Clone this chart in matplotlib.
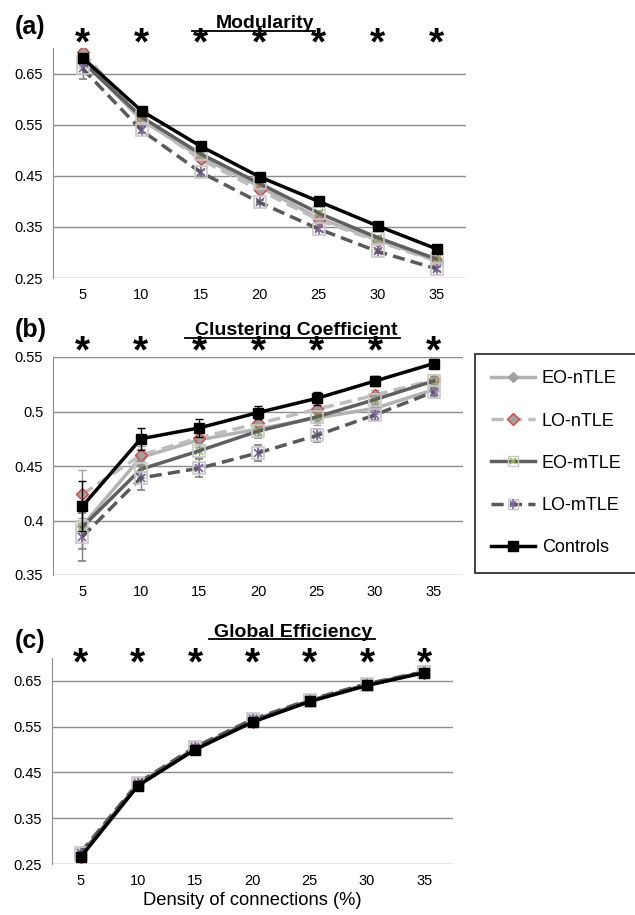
import matplotlib.pyplot as plt
import matplotlib.transforms as mtransforms
from matplotlib.lines import Line2D
from matplotlib.legend_handler import HandlerTuple

plt.rcParams['font.family'] = ['Liberation Sans', 'DejaVu Sans']

density = ['5', '10', '15', '20', '25', '30', '35']
groups = ['EO-nTLE', 'LO-nTLE', 'EO-mTLE', 'LO-mTLE', 'Controls']

# (a) modularity
mod_eo_ntle = [0.676, 0.559, 0.487, 0.429, 0.367, 0.325, 0.284]
mod_lo_ntle = [0.692, 0.562, 0.482, 0.422, 0.364, 0.322, 0.283]
mod_eo_mtle = [0.673, 0.565, 0.493, 0.435, 0.377, 0.329, 0.287]
mod_lo_mtle = [0.660, 0.539, 0.457, 0.398, 0.346, 0.302, 0.268]
mod_controls = [0.681, 0.577, 0.508, 0.448, 0.400, 0.352, 0.307]
mod_err = [0.006, 0.005, 0.004, 0.004, 0.004, 0.004, 0.004]
mod_err_lo_mtle = [0.020, 0.006, 0.005, 0.004, 0.004, 0.004, 0.004]

# (b) clustering coefficient
cc_eo_ntle = [0.395, 0.458, 0.474, 0.484, 0.494, 0.503, 0.520]
cc_lo_ntle = [0.424, 0.460, 0.476, 0.489, 0.502, 0.515, 0.529]
cc_eo_mtle = [0.394, 0.447, 0.464, 0.482, 0.495, 0.511, 0.528]
cc_lo_mtle = [0.385, 0.439, 0.448, 0.462, 0.478, 0.497, 0.518]
cc_controls = [0.413, 0.475, 0.485, 0.499, 0.512, 0.528, 0.544]
cc_err = [0.020, 0.008, 0.007, 0.006, 0.006, 0.005, 0.004]
cc_err_lo_ntle = [0.022, 0.008, 0.007, 0.006, 0.006, 0.005, 0.004]
cc_err_controls = [0.023, 0.010, 0.008, 0.006, 0.006, 0.005, 0.004]
cc_err_lo_mtle = [0.022, 0.011, 0.008, 0.007, 0.006, 0.005, 0.004]

# (c) global efficiency
ge_eo_ntle = [0.268, 0.423, 0.502, 0.562, 0.606, 0.641, 0.669]
ge_lo_ntle = [0.266, 0.422, 0.501, 0.561, 0.606, 0.641, 0.668]
ge_eo_mtle = [0.270, 0.424, 0.503, 0.563, 0.607, 0.642, 0.669]
ge_lo_mtle = [0.275, 0.427, 0.506, 0.566, 0.609, 0.644, 0.670]
ge_controls = [0.265, 0.421, 0.500, 0.560, 0.605, 0.640, 0.668]
ge_err = [0.004, 0.003, 0.003, 0.003, 0.003, 0.003, 0.003]

x = list(range(len(density)))

W, H = 635, 915
fig = plt.figure(figsize=(W / 100, H / 100), dpi=100)


def fx(px):
    return px / W


def fy(py):
    return 1 - py / H


def add_axes(left, right, top, bottom):
    return fig.add_axes([fx(left), fy(bottom), fx(right) - fx(left), fy(top) - fy(bottom)])


def draw_series(ax, eo_n, lo_n, eo_m, lo_m, ctrl, errs):
    e1, e2, e3, e4, e5 = errs
    ax.errorbar(x, eo_n, yerr=e1, color='#b3b3b3', lw=2.5, marker='D', ms=5,
                mfc='#a0a0a0', mec='#a0a0a0', ecolor='#a0a0a0', elinewidth=1, capsize=3, zorder=3)
    ax.errorbar(x, lo_n, yerr=e2, color='#bdbdbd', lw=2.5, ls=(0, (3.5, 1.8)), marker='D', ms=6,
                mfc='#a0a0a0', mec='#e0403a', mew=1, ecolor='#a0a0a0', elinewidth=1, capsize=3, zorder=4)
    ax.errorbar(x, eo_m, yerr=e3, color='#5f5f5f', lw=2.5, marker='s', ms=9,
                mfc='none', mec='#c8c8c8', mew=1.2, ecolor='#909090', elinewidth=1, capsize=3, zorder=5)
    ax.plot(x, eo_m, ls='none', marker='x', ms=6, mec='#92c050', mew=1.2, zorder=5)
    ax.errorbar(x, lo_m, yerr=e4, color='#595959', lw=2.5, ls=(0, (3.5, 1.8)), marker='s', ms=9,
                mfc='none', mec='#c8c8c8', mew=1.2, ecolor='#808080', elinewidth=1, capsize=3, zorder=6)
    ax.plot(x, lo_m, ls='none', marker='x', ms=6, mec='#8064a2', mew=1.2, zorder=6)
    ax.plot(x, lo_m, ls='none', marker='|', ms=8, mec='#8064a2', mew=1.2, zorder=6)
    ax.errorbar(x, ctrl, yerr=e5, color='black', lw=2.5, marker='s', ms=7.5,
                mfc='black', mec='black', ecolor='black', elinewidth=1, capsize=3, zorder=7)


def style_axes(ax, ylim, yticks, ylabels):
    ax.set_xlim(-0.5, 6.5)
    ax.set_ylim(*ylim)
    ax.set_yticks(yticks)
    ax.set_yticklabels(ylabels)
    ax.set_xticks(x)
    ax.set_xticklabels(density)
    ax.tick_params(length=0, labelsize=10.5, pad=7)
    for s in ['top', 'right', 'bottom']:
        ax.spines[s].set_visible(False)
    ax.spines['left'].set_color('#8c8c8c')
    ax.grid(axis='y', color='#8c8c8c', lw=1)
    ax.set_axisbelow(True)


def stars(ax, py):
    tr = mtransforms.blended_transform_factory(ax.transData, fig.transFigure)
    for i in x:
        ax.text(i, fy(py), '*', transform=tr, ha='center', va='baseline',
                fontsize=28, fontweight='bold', clip_on=False)


def header(label, label_py, title, title_cx, title_py, ul_x0, ul_x1, ul_py):
    fig.text(fx(15), fy(label_py), label, fontsize=18, fontweight='bold', va='baseline')
    fig.text(fx(title_cx), fy(title_py), title, fontsize=14, fontweight='bold',
             ha='center', va='baseline')
    fig.add_artist(Line2D([fx(ul_x0), fx(ul_x1)], [fy(ul_py), fy(ul_py)], color='black', lw=1.3))


# (a)
ax1 = add_axes(53, 466, 48, 278)
draw_series(ax1, mod_eo_ntle, mod_lo_ntle, mod_eo_mtle, mod_lo_mtle, mod_controls,
            [mod_err, mod_err, mod_err, mod_err_lo_mtle, mod_err])
style_axes(ax1, (0.25, 0.70), [0.25, 0.35, 0.45, 0.55, 0.65], ['0.25', '0.35', '0.45', '0.55', '0.65'])
header('(a)', 34, 'Modularity', 265, 28, 192, 315, 31)
stars(ax1, 54)

# (b)
ax2 = add_axes(53, 463, 357, 575)
draw_series(ax2, cc_eo_ntle, cc_lo_ntle, cc_eo_mtle, cc_lo_mtle, cc_controls,
            [cc_err, cc_err_lo_ntle, cc_err, cc_err_lo_mtle, cc_err_controls])
style_axes(ax2, (0.35, 0.55), [0.35, 0.4, 0.45, 0.5, 0.55], ['0.35', '0.4', '0.45', '0.5', '0.55'])
header('(b)', 337, 'Clustering Coefficient', 296, 335, 185, 400, 338)
stars(ax2, 362)

# (c)
ax3 = add_axes(52, 453, 658, 864)
draw_series(ax3, ge_eo_ntle, ge_lo_ntle, ge_eo_mtle, ge_lo_mtle, ge_controls,
            [ge_err] * 5)
style_axes(ax3, (0.25, 0.70), [0.25, 0.35, 0.45, 0.55, 0.65], ['0.25', '0.35', '0.45', '0.55', '0.65'])
header('(c)', 648, 'Global Efficiency', 293, 637, 209, 375, 639)
stars(ax3, 674)
ax3.set_xlabel('Density of connections (%)', fontsize=13.2, labelpad=3)

# legend
dash = (0, (3.5, 1.8))
h1 = Line2D([], [], color='#b3b3b3', lw=2.5, marker='D', ms=5, mfc='#a0a0a0', mec='#a0a0a0')
h2 = Line2D([], [], color='#bdbdbd', lw=2.5, ls=dash, marker='D', ms=6, mfc='#a0a0a0', mec='#e0403a')
h3 = (Line2D([], [], color='#5f5f5f', lw=2.5, marker='s', ms=7, mfc='none', mec='#c8c8c8'),
      Line2D([], [], ls='none', marker='x', ms=5, mec='#92c050', mew=1.2))
h4 = (Line2D([], [], color='#595959', lw=2.5, ls=dash, marker='s', ms=7, mfc='none', mec='#c8c8c8'),
      Line2D([], [], ls='none', marker='x', ms=5, mec='#8064a2', mew=1.2),
      Line2D([], [], ls='none', marker='|', ms=7, mec='#8064a2', mew=1.2))
h5 = Line2D([], [], color='black', lw=2.5, marker='s', ms=7, mfc='black', mec='black')
leg = fig.legend([h1, h2, h3, h4, h5], groups, loc='upper left',
                 bbox_to_anchor=(fx(475), fy(354)), fontsize=13, frameon=True, fancybox=False,
                 handlelength=2.4, handletextpad=0.4, labelspacing=1.4, borderpad=0.9,
                 borderaxespad=0, handler_map={tuple: HandlerTuple(ndivide=1, pad=0)})
leg.get_frame().set_edgecolor('black')
leg.get_frame().set_linewidth(1.3)

fig.savefig('out.png', dpi=100)
